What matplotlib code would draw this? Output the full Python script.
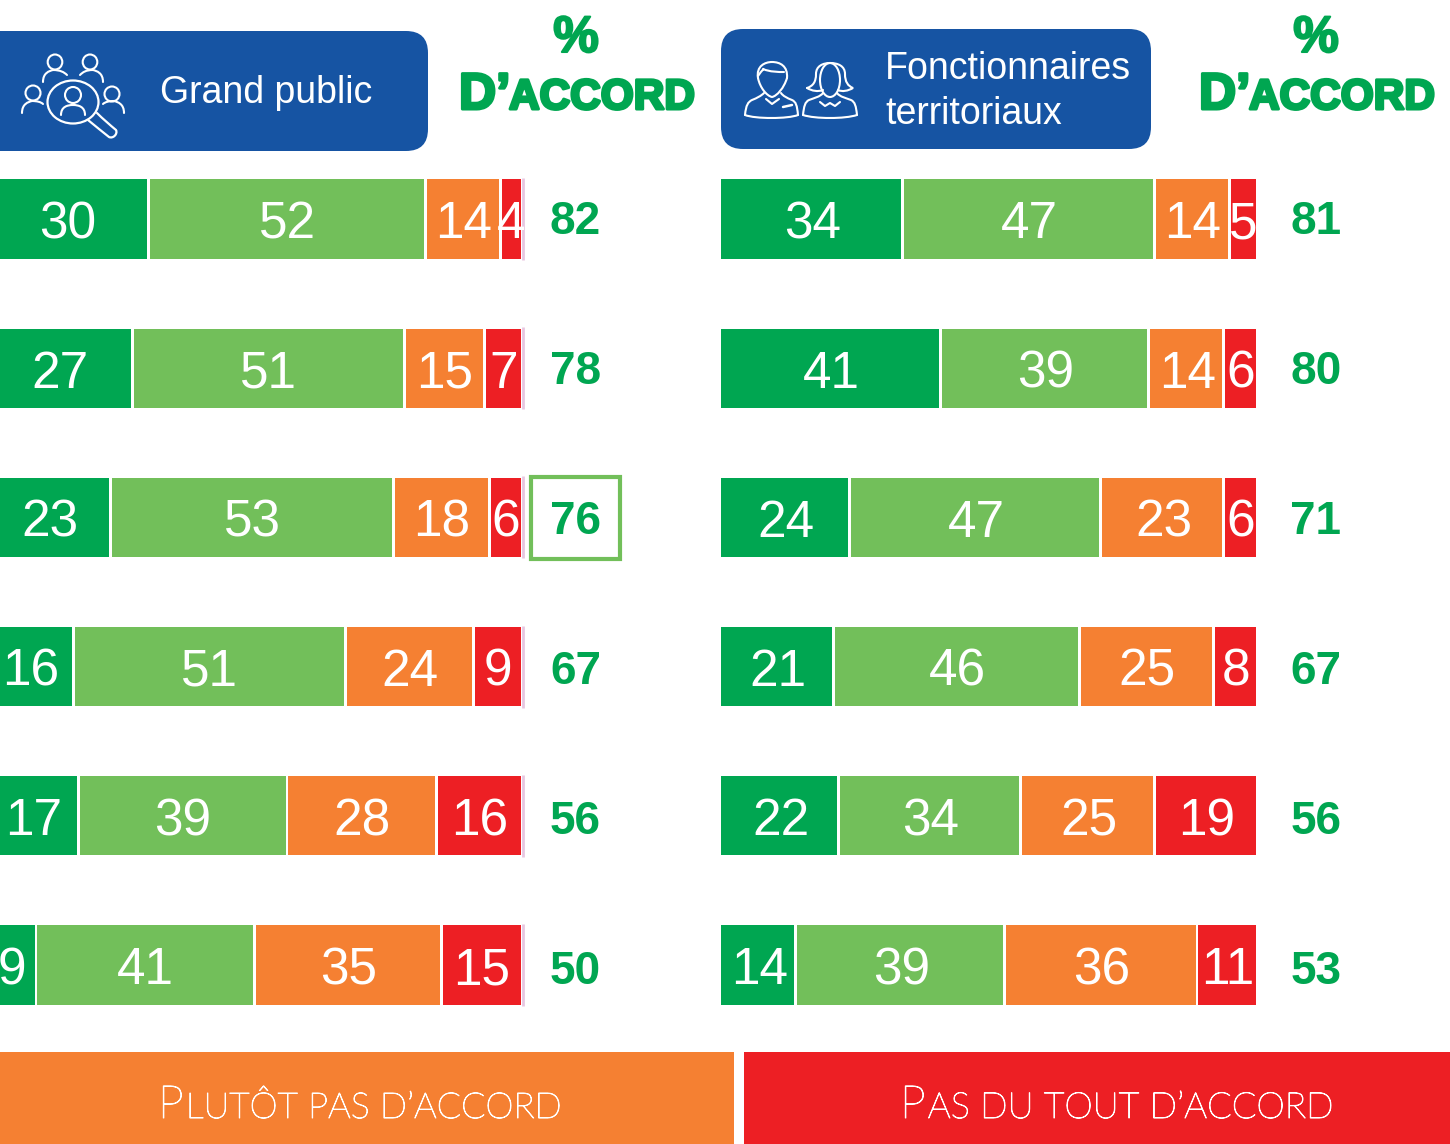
import matplotlib
matplotlib.use("Agg")
import matplotlib.pyplot as plt
from matplotlib.patches import FancyBboxPatch, Rectangle, Ellipse, PathPatch
from matplotlib.path import Path
import matplotlib.patheffects as pe

# data, top row first
public_strong = [30, 27, 23, 16, 17, 9]
public_agree = [52, 51, 53, 51, 39, 41]
public_disagree = [14, 15, 18, 24, 28, 35]
public_against = [4, 7, 6, 9, 16, 15]
public_total = [82, 78, 76, 67, 56, 50]

staff_strong = [34, 41, 24, 21, 22, 14]
staff_agree = [47, 39, 47, 46, 34, 39]
staff_disagree = [14, 14, 23, 25, 25, 36]
staff_against = [5, 6, 6, 8, 19, 11]
staff_total = [81, 80, 71, 67, 56, 53]

GREEN = "#00A651"
LIGHT_GREEN = "#72BF5A"
ORANGE = "#F58032"
RED = "#ED1F24"
BLUE = "#1654A3"
PINK = "#E8C6E0"
seg_colors = [GREEN, LIGHT_GREEN, ORANGE, RED]

W, H = 1450, 1144
plt.rcParams["font.family"] = ["Liberation Sans", "DejaVu Sans"]
fig = plt.figure(figsize=(W / 100, H / 100), dpi=100)

# page layer in pixels, for headers, icons and the bottom bands
page = fig.add_axes([0, 0, 1, 1])
page.set_xlim(0, W)
page.set_ylim(H, 0)
page.axis("off")


def panel(x0, x1, series, total, total_x, end_gap, start_gap, pink_line):
    top = 219 - 149.2 / 2
    bottom = top + 149.2 * 6
    ax = fig.add_axes([x0 / W, 1 - bottom / H, (x1 - x0) / W, (bottom - top) / H])
    ax.set_xlim(0, 100)
    ax.set_ylim(5.5, -0.5)
    ax.axis("off")
    ax.patch.set_alpha(0)
    for row in range(6):
        cum = 0
        for k, vals in enumerate(series):
            v = vals[row]
            start = cum + start_gap if k > 0 else cum
            end = cum + v - end_gap if k < 3 else cum + v
            ax.barh(row, end - start, left=start, height=0.53, color=seg_colors[k])
            ax.text(cum + v / 2 + 0.2, row + 0.13, str(v), color="white", fontsize=37,
                    ha="center", va="baseline", clip_on=False)
            cum += v
        if pink_line:
            ax.vlines(100.4, row - 0.275, row + 0.275, color=PINK, lw=2, clip_on=False)
        page.text(total_x, 233.5 + 150 * row, str(total[row]), color=GREEN, fontsize=33,
                  fontweight="bold", ha="center", va="baseline")
    return ax


panel(-13, 521, [public_strong, public_agree, public_disagree, public_against], public_total,
      575.5, 0.1, 0.45, True)
panel(721, 1256, [staff_strong, staff_agree, staff_disagree, staff_against], staff_total,
      1316, 0.3, 0.25, False)

# box around the 76
page.add_patch(Rectangle((531, 477), 89, 82, fill=False, ec=LIGHT_GREEN, lw=3))

# header boxes
for x, y, w in [(-30, 31, 458), (721, 29, 430)]:
    page.add_patch(FancyBboxPatch((x + 22, y + 22), w - 44, 120 - 44,
                                  boxstyle="round,pad=22,rounding_size=22",
                                  fc=BLUE, ec="none"))

page.text(160, 103, "Grand public", color="white", fontsize=27, va="baseline")
page.text(885, 79, "Fonctionnaires", color="white", fontsize=27, va="baseline")
page.text(885, 124, "territoriaux", color="white", fontsize=27, va="baseline")


def curve(points, lw=1.5):
    # first point then triples of bezier points
    codes = [Path.MOVETO] + [Path.CURVE4] * (len(points) - 1)
    page.add_patch(PathPatch(Path(points, codes), fill=False, ec="white", lw=lw, capstyle="round"))


def line(xs, ys, lw=1.5):
    page.plot(xs, ys, color="white", lw=lw, solid_capstyle="round", solid_joinstyle="round")


def head(cx, cy, rx, ry, lw=1.5):
    page.add_patch(Ellipse((cx, cy), rx * 2, ry * 2, fill=False, ec="white", lw=lw))


# group with magnifier
head(55, 62, 7.3, 7.5)
curve([(43, 82), (43, 73), (49, 71), (53, 70), (60, 70), (64, 72), (67, 75)])
head(90, 62, 7.3, 7.5)
curve([(103, 82), (103, 73), (97, 71), (93, 70), (86, 70), (83, 72), (80, 75)])
head(33, 93, 7.5, 7.5)
curve([(22, 113), (22, 104), (28, 102), (32, 101), (37, 101), (41, 102), (43, 104)])
head(112, 94, 7.5, 7.5)
curve([(124, 113), (124, 104), (118, 102), (114, 101), (109, 101), (105, 102), (103, 104)])
head(73, 95, 8, 8)
curve([(61, 115), (61, 107), (67, 105), (73, 105), (79, 105), (85, 107), (85, 115)])
page.add_patch(Ellipse((73, 102), 51, 43, fill=False, ec="white", lw=1.6))
curve([(88, 120), (95, 126), (103, 132), (109, 137), (113, 139), (118, 134), (116, 130),
       (110, 125), (103, 119), (97, 113)], lw=1.6)

# civil servants, man
curve([(758, 78), (756, 66), (765, 62), (772, 62), (780, 62), (788, 66), (787, 78)])
curve([(758, 76), (762, 70), (765, 68), (763, 69), (770, 72), (778, 72), (784, 72)])
curve([(758, 78), (760, 88), (767, 96), (772, 97), (777, 96), (784, 88), (787, 78)])
curve([(745, 115), (746, 105), (748, 102), (752, 100), (757, 98), (761, 96), (764, 93)])
curve([(798, 115), (797, 105), (796, 102), (792, 100), (787, 98), (783, 96), (781, 93)])
curve([(745, 115), (755, 119), (788, 119), (798, 115)])
line([766, 772, 779], [99, 104, 99])
line([783, 792], [107, 105], lw=1.8)

# woman
head(830, 80, 10, 17)
curve([(807, 88), (813, 86), (816, 82), (816, 74), (816, 66), (823, 63), (830, 63),
       (838, 63), (845, 66), (845, 74), (845, 82), (848, 86), (853, 88),
       (848, 91), (842, 92), (838, 90)])
curve([(807, 88), (812, 91), (818, 92), (823, 90)])
curve([(803, 115), (804, 106), (805, 102), (809, 100), (814, 98), (820, 97), (823, 93)])
curve([(857, 115), (856, 106), (855, 102), (851, 100), (846, 98), (840, 97), (837, 93)])
curve([(803, 115), (815, 119), (845, 119), (857, 115)])
line([820, 825, 830, 835, 840], [102, 106, 103, 106, 102])

# "% D'ACCORD" column heads
stroke = [pe.withStroke(linewidth=2.2, foreground=GREEN)]
for cx, x_d in [(576, 458), (1316, 1198)]:
    page.text(cx, 52, "%", color=GREEN, fontsize=37, fontweight="bold", ha="center",
              va="baseline", path_effects=[pe.withStroke(linewidth=1.5, foreground=GREEN)])
    page.text(x_d + 1, 109, "D’", color=GREEN, fontsize=37, fontweight="bold", va="baseline",
              path_effects=stroke)
    page.text(x_d + 51, 109, "ACCORD", color=GREEN, fontsize=30.5, fontweight="bold", va="baseline",
              path_effects=stroke)

# bottom bands
page.add_patch(Rectangle((0, 1052), 734, 92, fc=ORANGE, ec="none"))
page.add_patch(Rectangle((744, 1052), 706, 92, fc=RED, ec="none"))


def small_caps(x, y, first, rest, big, small):
    thick = [pe.withStroke(linewidth=0.7, foreground="white")]
    t = page.text(x, y, first, color="white", fontsize=big, family=["Lato", "DejaVu Sans"],
                  fontweight="light", va="baseline", path_effects=thick)
    box = t.get_window_extent(fig.canvas.get_renderer())
    page.text(x + box.width + 2, y, rest, color="white", fontsize=small,
              family=["Lato", "DejaVu Sans"], fontweight="light", va="baseline", path_effects=thick)


small_caps(158, 1118, "P", "LUTÔT PAS D’ACCORD", 33, 25.7)
small_caps(900, 1118, "P", "AS DU TOUT D’ACCORD", 33, 26)

fig.savefig("out.png", dpi=100)
